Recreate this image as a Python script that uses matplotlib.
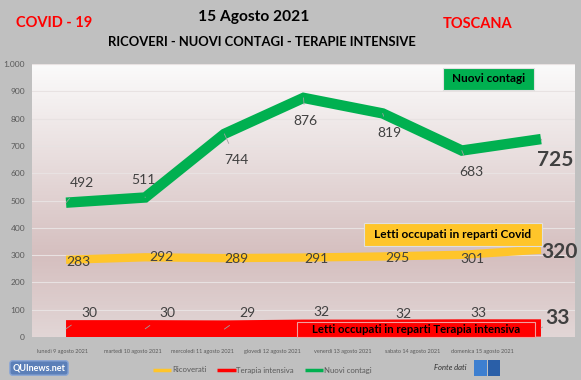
import numpy as np
import matplotlib
matplotlib.use("Agg")
import matplotlib.pyplot as plt
from matplotlib.colors import LinearSegmentedColormap
from matplotlib.ticker import FuncFormatter

plt.rcParams['font.family'] = ['Lato', 'DejaVu Sans']

days = ["lunedì 9 agosto 2021", "martedì 10 agosto 2021", "mercoledì 11 agosto 2021",
        "giovedì 12 agosto 2021", "venerdì 13 agosto 2021", "sabato 14 agosto 2021",
        "domenica 15 agosto 2021"]
ricoverati = [283, 292, 289, 291, 295, 301, 320]
terapia = [30, 30, 29, 32, 32, 33, 33]
contagi = [492, 511, 744, 876, 819, 683, 725]

GREEN = "#00b050"
YELLOW = "#ffc52a"
RED = "#ff0000"
GREY_TXT = "#595959"

W, H = 581, 380
fig = plt.figure(figsize=(W / 100, H / 100), dpi=100)
fig.patch.set_facecolor("#c0c0c0")

def px(x0, y0, x1, y1):
    return [x0 / W, 1 - y1 / H, (x1 - x0) / W, (y1 - y0) / H]

ax = fig.add_axes(px(32, 64, 575, 337))
ax.set_xlim(-0.43, 6.43)
ax.set_ylim(0, 1000)

# gradient background
cmap = LinearSegmentedColormap.from_list("bg", [(0, "#e2d6d6"), (0.3, "#d5bfbf"), (1.0, "#fbfbfb")])
grad = np.linspace(0, 1, 256).reshape(-1, 1)
ax.imshow(grad, aspect="auto", cmap=cmap, origin="lower",
          extent=[0, 1, 0, 1], transform=ax.transAxes, zorder=0)

for s in ax.spines.values():
    s.set_visible(False)
ax.set_yticks(np.arange(0, 1001, 100))
ax.yaxis.set_major_formatter(FuncFormatter(lambda v, p: f"{int(v):,}".replace(",", ".")))
ax.tick_params(axis="y", length=0, labelsize=6, labelcolor=GREY_TXT, pad=5)
ax.grid(axis="y", color="#e8e2e2", linewidth=0.8, zorder=1)
ax.set_axisbelow(True)

x = np.arange(len(days))
# x tick labels (offset like the source)
tick_pos = -0.04 + 0.884 * x
ax.set_xticks(tick_pos)
ax.set_xticklabels(days, fontsize=4, color=GREY_TXT)
ax.tick_params(axis="x", length=0, pad=9)

ax.plot(x, terapia, color=RED, linewidth=12.5, solid_capstyle="butt", zorder=3, label="Terapia intensiva")
ax.plot(x, ricoverati, color=YELLOW, linewidth=6, solid_capstyle="butt", zorder=3, label="Ricoverati")
ax.plot(x, contagi, color=GREEN, linewidth=7.5, solid_capstyle="butt", solid_joinstyle="miter", zorder=3, label="Nuovi contagi")

# data labels (offsets in points)
lab_c = [(11.5, 14), (-1.5, 12.6), (8.6, -18.7), (1.4, -17), (5, -14), (6.5, -15.5), (10, -15)]
lab_r = [(8.6, -1.4), (12, 0), (9, -1), (9, -1), (10.8, -1), (8, -3), (13, -1.5)]
lab_t = [(16.5, 11.5), (16, 11.5), (16.5, 11.5), (13, 11.5), (15, 10), (12, 11), (12, 7)]

def labels(vals, offs, leader):
    n = len(vals)
    for i, (v, (dx, dy)) in enumerate(zip(vals, offs)):
        last = i == n - 1
        kw = dict(fontsize=15 if last else 10, fontweight="bold" if last else "normal",
                  color="#404040", ha="center", va="center", zorder=6)
        if leader:
            ax.annotate(str(v), xy=(x[i], v), xytext=(dx, dy), textcoords="offset points",
                        arrowprops=dict(arrowstyle="-", color="#a0a0a0", lw=0.6,
                                        shrinkA=6, shrinkB=0), **kw)
        else:
            ax.annotate(str(v), xy=(x[i], v), xytext=(dx, dy), textcoords="offset points", **kw)

labels(contagi, lab_c, True)
labels(ricoverati, lab_r, False)
labels(terapia, lab_t, True)

# text boxes
def box(x0, y0, x1, y1, text, fc, ec, fs):
    fig.patches.append(plt.Rectangle((x0 / W, 1 - y1 / H), (x1 - x0) / W, (y1 - y0) / H,
                                     transform=fig.transFigure, facecolor=fc, edgecolor=ec,
                                     linewidth=0.8, zorder=10))
    fig.text((x0 + x1) / 2 / W, 1 - (y0 + y1) / 2 / H, text, ha="center", va="center",
             fontsize=fs, fontweight="bold", color="black", zorder=11)

box(443, 68, 534, 90, "Nuovi contagi", GREEN, "#e0e0e0", 8.5)
box(364, 223, 542, 246, "Letti occupati in reparti Covid", YELLOW, "#e0e0e0", 8.6)
box(297, 322, 535, 337, "Letti occupati in reparti Terapia intensiva", RED, "#f0a0a0", 8.2)

# titles
fig.text(54 / W, 1 - 23 / H, "COVID - 19", color="red", fontsize=10.5, fontweight="bold", ha="center", va="center")
fig.text(478 / W, 1 - 24 / H, "TOSCANA", color="red", fontsize=10.5, fontweight="bold", ha="center", va="center")
fig.text(254 / W, 1 - 17 / H, "15 Agosto 2021", color="black", fontsize=11.2, fontweight="bold", ha="center", va="center")
fig.text(262 / W, 1 - 42 / H, "RICOVERI - NUOVI CONTAGI - TERAPIE INTENSIVE", color="black",
         fontsize=9.4, fontweight="bold", ha="center", va="center")

# legend
h = {l.get_label(): l for l in ax.get_lines()}
leg = fig.legend([h["Ricoverati"], h["Terapia intensiva"], h["Nuovi contagi"]],
                 ["Ricoverati", "Terapia intensiva", "Nuovi contagi"],
                 loc="center", bbox_to_anchor=(262 / W, 1 - 370 / H), ncol=3, frameon=False,
                 fontsize=5.6, handlelength=2.4, columnspacing=1.4, handletextpad=0.05)
for t in leg.get_texts():
    t.set_color(GREY_TXT)
for l in leg.get_lines():
    l.set_linewidth(2.5)

# logos (approximate)
fig.text(39 / W, 1 - 368 / H, "QUInews.net", fontsize=6.5, fontweight="bold", color="white",
         ha="center", va="center",
         bbox=dict(boxstyle="round,pad=0.3", facecolor="#5b7fb8", edgecolor="#8aa6d6"))
fig.text(467 / W, 1 - 368 / H, "Fonte dati", fontsize=5.5, style="italic", color="#303030",
         ha="right", va="center")
fig.patches.append(plt.Rectangle((474 / W, 1 - 376 / H), 13 / W, 16 / H, transform=fig.transFigure,
                                 facecolor="#3d7fd0", edgecolor="none"))
fig.patches.append(plt.Rectangle((488 / W, 1 - 376 / H), 12 / W, 16 / H, transform=fig.transFigure,
                                 facecolor="#2a5fa8", edgecolor="none"))

fig.savefig("out.png", dpi=100, facecolor=fig.get_facecolor())
